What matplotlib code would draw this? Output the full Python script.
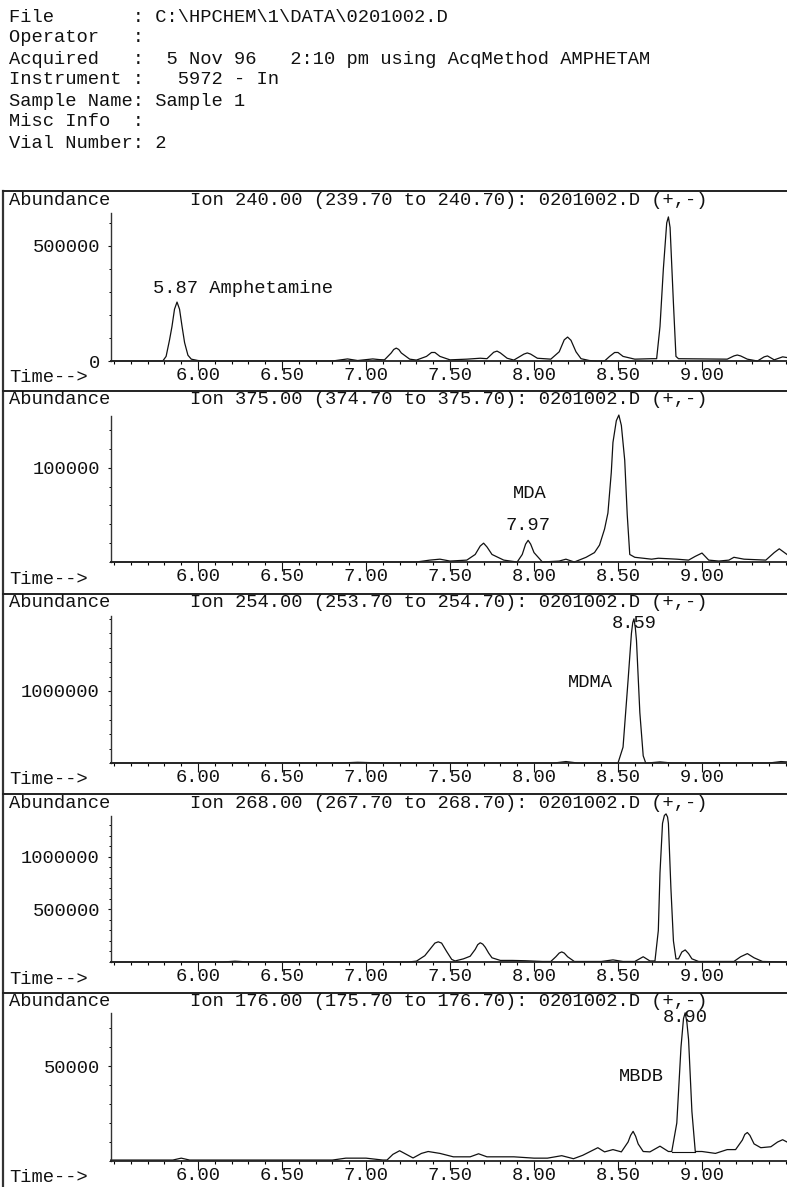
# plot.py - GC/MS extracted ion chromatograms (ChemStation style printout)
import matplotlib
matplotlib.use("Agg")
import matplotlib.pyplot as plt
from matplotlib.ticker import MultipleLocator
from matplotlib.lines import Line2D

W, H = 787, 1187
DPI = 100
MONO = "Liberation Mono"
FS = 13.5
INK = "#111111"

plt.rcParams["font.family"] = [MONO, "DejaVu Sans Mono"]
plt.rcParams["font.size"] = FS

# ---- header --------------------------------------------------------------
header_lines = [
    "File       : C:\\HPCHEM\\1\\DATA\\0201002.D",
    "Operator   :",
    "Acquired   :  5 Nov 96   2:10 pm using AcqMethod AMPHETAM",
    "Instrument :   5972 - In",
    "Sample Name: Sample 1",
    "Misc Info  :",
    "Vial Number: 2",
]

# ---- data ----------------------------------------------------------------
ion_titles = [
    "Ion 240.00 (239.70 to 240.70): 0201002.D (+,-)",
    "Ion 375.00 (374.70 to 375.70): 0201002.D (+,-)",
    "Ion 254.00 (253.70 to 254.70): 0201002.D (+,-)",
    "Ion 268.00 (267.70 to 268.70): 0201002.D (+,-)",
    "Ion 176.00 (175.70 to 176.70): 0201002.D (+,-)",
]

x_ticks = [6.0, 6.5, 7.0, 7.5, 8.0, 8.5, 9.0]
x_tick_labels = ["6.00", "6.50", "7.00", "7.50", "8.00", "8.50", "9.00"]

# (time min, abundance)
ion240 = [(5.48, 0), (5.79, 0), (5.81, 20000), (5.83, 90000), (5.845, 150000),
          (5.86, 225000), (5.875, 256000), (5.89, 225000), (5.905, 150000), (5.92, 80000),
          (5.94, 25000), (5.96, 8000), (6.00, 2000), (6.05, 0), (6.80, 0), (6.89, 9000),
          (6.95, 2000), (7.04, 9000), (7.08, 6000), (7.11, 5000), (7.15, 35000),
          (7.165, 50000), (7.18, 56000), (7.195, 50000), (7.21, 35000), (7.26, 8000),
          (7.30, 4000), (7.36, 20000), (7.39, 37000), (7.41, 37000), (7.44, 20000),
          (7.50, 5000), (7.60, 8000), (7.68, 12000), (7.72, 10000), (7.76, 38000),
          (7.78, 43000), (7.80, 35000), (7.84, 12000), (7.88, 4000), (7.94, 30000),
          (7.96, 35000), (7.98, 30000), (8.02, 12000), (8.10, 8000), (8.15, 40000),
          (8.18, 92000), (8.20, 104000), (8.22, 90000), (8.25, 40000), (8.28, 10000),
          (8.33, 2000), (8.37, 0), (8.42, 0), (8.45, 20000), (8.48, 37000), (8.50, 37000),
          (8.53, 20000), (8.60, 8000), (8.70, 10000), (8.73, 10000), (8.75, 150000),
          (8.77, 400000), (8.79, 600000), (8.80, 626000), (8.81, 580000), (8.83, 250000),
          (8.845, 20000), (8.86, 10000), (9.15, 8000), (9.19, 22000), (9.21, 26000),
          (9.23, 22000), (9.27, 8000), (9.33, 0), (9.37, 18000), (9.39, 22000),
          (9.43, 5000), (9.48, 18000), (9.506, 15000)]

ion375 = [(5.48, 0), (7.30, 0), (7.38, 2000), (7.44, 3000), (7.50, 1000), (7.60, 2000),
          (7.65, 8000), (7.68, 17000), (7.70, 20000), (7.72, 16000), (7.75, 8000),
          (7.82, 2000), (7.90, 0), (7.93, 8000), (7.95, 19000), (7.965, 23000),
          (7.98, 19000), (8.00, 10000), (8.05, 0), (8.15, 1000), (8.19, 3000), (8.24, 0),
          (8.31, 5000), (8.36, 10000), (8.39, 18000), (8.42, 35000), (8.44, 52000),
          (8.46, 95000), (8.47, 127000), (8.49, 150000), (8.505, 156000), (8.52, 145000),
          (8.54, 108000), (8.555, 50000), (8.57, 8000), (8.60, 5000), (8.70, 3000),
          (8.74, 4000), (8.85, 3000), (8.92, 2000), (8.96, 6000), (9.00, 9500),
          (9.04, 2000), (9.10, 1000), (9.16, 2000), (9.19, 5000), (9.25, 3000),
          (9.38, 2000), (9.43, 10000), (9.46, 14000), (9.506, 8000)]

ion254 = [(5.48, 0), (6.85, 0), (6.95, 10000), (7.10, 0), (8.12, 0), (8.19, 20000),
          (8.26, 0), (8.50, 0), (8.53, 220000), (8.56, 1150000), (8.58, 1800000),
          (8.588, 1950000), (8.595, 2000000), (8.603, 1880000), (8.61, 1700000),
          (8.63, 700000), (8.65, 100000), (8.665, 0), (8.70, 5000), (8.75, 15000),
          (8.82, 0), (9.40, 0), (9.47, 20000), (9.506, 15000)]

ion268 = [(5.48, 0), (6.15, 0), (6.22, 8000), (6.30, 0), (7.25, 0), (7.30, 8000),
          (7.35, 60000), (7.38, 120000), (7.41, 180000), (7.43, 192000), (7.45, 180000),
          (7.48, 100000), (7.51, 25000), (7.53, 10000), (7.58, 30000), (7.62, 55000),
          (7.65, 120000), (7.665, 165000), (7.68, 183000), (7.695, 170000), (7.71, 140000),
          (7.73, 85000), (7.75, 40000), (7.80, 15000), (7.87, 15000), (7.95, 12000),
          (8.05, 5000), (8.10, 5000), (8.13, 50000), (8.15, 85000), (8.165, 96000),
          (8.18, 85000), (8.20, 50000), (8.24, 5000), (8.40, 5000), (8.47, 20000),
          (8.53, 5000), (8.60, 5000), (8.65, 50000), (8.69, 10000), (8.72, 10000),
          (8.74, 300000), (8.75, 850000), (8.765, 1320000), (8.776, 1395000),
          (8.786, 1410000), (8.795, 1380000), (8.80, 1320000), (8.815, 700000),
          (8.83, 200000), (8.845, 30000), (8.86, 30000), (8.88, 95000), (8.90, 115000),
          (8.92, 80000), (8.94, 30000), (8.98, 5000), (9.19, 5000), (9.23, 50000),
          (9.27, 80000), (9.31, 40000), (9.36, 5000), (9.506, 0)]

ion176 = [(5.48, 500), (5.85, 500), (5.90, 1500), (5.95, 500), (6.80, 500), (6.88, 1500),
          (7.00, 1500), (7.10, 500), (7.125, 500), (7.16, 3500), (7.20, 5400), (7.24, 3500),
          (7.28, 1600), (7.33, 4000), (7.37, 5000), (7.44, 4000), (7.52, 2200), (7.62, 2200),
          (7.67, 3800), (7.72, 2200), (7.88, 2200), (8.00, 1500), (8.08, 1500), (8.165, 2800),
          (8.235, 1200), (8.29, 3000), (8.38, 7000), (8.42, 4800), (8.47, 6000), (8.52, 4800),
          (8.56, 10000), (8.575, 13500), (8.59, 15600), (8.605, 13000), (8.62, 9000),
          (8.65, 5000), (8.69, 4800), (8.75, 7800), (8.80, 5000), (8.82, 5000), (8.85, 20000),
          (8.875, 60000), (8.89, 75000), (8.90, 78000), (8.91, 73000), (8.92, 64000),
          (8.94, 26000), (8.96, 5000), (9.00, 5000), (9.08, 4000), (9.15, 6000), (9.20, 6000),
          (9.24, 11000), (9.255, 14000), (9.27, 15000), (9.285, 13500), (9.31, 9000),
          (9.35, 7000), (9.41, 7500), (9.45, 10000), (9.48, 11200), (9.506, 10000)]

traces = [ion240, ion375, ion254, ion268, ion176]

y_tick_values = [[0, 500000], [100000], [1000000], [500000, 1000000], [50000]]
y_tick_labels = [["0", "500000"], ["100000"], ["1000000"], ["500000", "1000000"], ["50000"]]
y_minor_step = [100000, 20000, 200000, 100000, 10000]
y_top = [643000, 155000, 2040000, 1390000, 77900]

# peak annotations: (retention time, apex abundance, rt label, compound label)
peak_notes = [
    (5.875, 256000, "5.87 Amphetamine", None),
    (7.965, 23000, "7.97", "MDA"),
    (8.595, 2000000, "8.59", "MDMA"),
    (8.786, 1410000, "8.78", "MDEA"),
    (8.90, 78000, "8.90", "MBDB"),
]
# integration baselines drawn under peaks (start, end, level)
int_base = {4: (8.82, 8.96, 5000)}

# ---- layout (pixels) -----------------------------------------------------
panel_top = [191, 391, 594, 794, 993]
axis_top = [213, 416, 616, 816, 1013]
axis_base = [361, 562, 763, 962, 1161]
AX_LEFT = 111


def fx(x):
    return x / W


def fy(y):
    return 1 - y / H


fig = plt.figure(figsize=(W / DPI, H / DPI), dpi=DPI)
fig.patch.set_facecolor("white")

for i, line in enumerate(header_lines):
    fig.text(fx(9), fy(17 + 21.0 * i), line, ha="left", va="center",
             fontsize=FS, color=INK)

# outer frame pieces
fig.add_artist(Line2D([fx(3), fx(3)], [fy(191), fy(H)], color="#333333", lw=1.6))
for t in panel_top:
    fig.add_artist(Line2D([fx(3), 1.0], [fy(t), fy(t)], color="#222222", lw=1.4))

for i in range(5):
    ax = fig.add_axes([fx(AX_LEFT), fy(axis_base[i]), 1 - fx(AX_LEFT),
                       (axis_base[i] - axis_top[i]) / H])
    ax.set_facecolor("none")
    times = [p[0] for p in traces[i]]
    abund = [p[1] for p in traces[i]]
    ax.plot(times, abund, color=INK, lw=0.9, clip_on=False, solid_joinstyle="round")
    if i in int_base:
        a, b, lev = int_base[i]
        ax.plot([a, b], [lev, lev], color=INK, lw=0.8)

    ax.set_xlim(5.482, 9.506)
    ax.set_ylim(0, y_top[i])
    for s in ("top", "right"):
        ax.spines[s].set_visible(False)
    ax.spines["left"].set_linewidth(1.0)
    ax.spines["bottom"].set_linewidth(1.3)
    ax.spines["left"].set_color("#333333")
    ax.spines["bottom"].set_color("#222222")

    ax.set_xticks(x_ticks)
    ax.set_xticklabels(x_tick_labels)
    ax.xaxis.set_minor_locator(MultipleLocator(0.1))
    ax.set_yticks(y_tick_values[i])
    ax.set_yticklabels(y_tick_labels[i])
    ax.yaxis.set_minor_locator(MultipleLocator(y_minor_step[i]))

    ax.tick_params(axis="x", which="major", direction="out", length=6.5, width=0.8,
                   pad=-2.5, labelsize=FS, colors=INK)
    ax.tick_params(axis="x", which="minor", direction="out", length=2.5, width=0.8)
    ax.tick_params(axis="y", which="major", direction="out", length=2.5, width=0.8,
                   pad=5.5, labelsize=FS, colors=INK)
    ax.tick_params(axis="y", which="minor", direction="out", length=1.5, width=0.7)

    fig.text(fx(9), fy(panel_top[i] + 9), "Abundance", ha="left", va="center",
             fontsize=FS, color=INK)
    fig.text(fx(190), fy(panel_top[i] + 9), ion_titles[i], ha="left", va="center",
             fontsize=FS, color=INK)
    fig.text(fx(9), fy(axis_base[i] + 17), "Time-->", ha="left", va="center",
             fontsize=FS, color=INK)

    rt, top, rt_lab, name = peak_notes[i]
    if i == 0:
        ax.annotate(rt_lab, xy=(rt, top), xytext=(-24, 14), textcoords="offset pixels",
                    ha="left", va="center", fontsize=FS, color=INK)
    elif i == 1:
        ax.annotate(rt_lab, xy=(rt, top), xytext=(0, 15), textcoords="offset pixels",
                    ha="center", va="center", fontsize=FS, color=INK)
        ax.annotate(name, xy=(rt, top), xytext=(2, 47), textcoords="offset pixels",
                    ha="center", va="center", fontsize=FS, color=INK)
    else:
        ax.annotate(rt_lab, xy=(rt, top), xytext=(0, -5), textcoords="offset pixels",
                    ha="center", va="center", fontsize=FS, color=INK)
        ax.annotate(name, xy=(rt, top), xytext=(-44, -64), textcoords="offset pixels",
                    ha="center", va="center", fontsize=FS, color=INK)

fig.savefig("out.png", dpi=DPI)
